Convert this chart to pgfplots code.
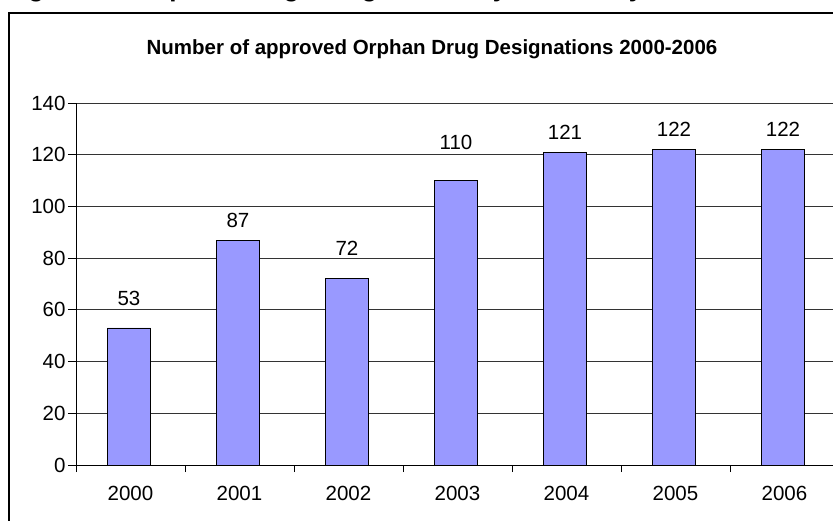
\documentclass[border=0pt]{standalone}
\usepackage{pgfplots}
\pgfplotsset{compat=1.18}
\usepackage{fontspec}
\setmainfont{Liberation Sans}
\definecolor{barblue}{HTML}{9999FF}
\pgfplotsset{/pgf/number format/assume math mode=true}
\pgfplotstableread{
x y
1 87
4 121
5 122
6 122
}\dataA
\pgfplotstableread{
x y
0 53
2 72
}\dataB
\pgfplotstableread{
x y
3 110
}\dataC
\begin{document}
\begin{tikzpicture}[x=1pt,y=1pt]
\useasboundingbox (0,0) rectangle (833,520);
\clip (0,0) rectangle (833,520);
\node[anchor=base west, font=\fontsize{26}{30}\selectfont\bfseries, inner sep=0] at (5,523) {Figure 10: Orphan Drug Designations by calendar year};
\draw[line width=1.5pt] (9,-20) -- (9,507) -- (860,507);
\node[font=\fontsize{20.5}{24}\selectfont\bfseries] at (432,471) {Number of approved Orphan Drug Designations 2000-2006};
\begin{axis}[
  at={(76pt,55pt)}, anchor=south west,
  scale only axis, width=763pt, height=362pt,
  xmin=-0.5, xmax=6.5, ymin=0, ymax=140,
  axis x line*=bottom, axis y line*=left,
  axis line style={-, line width=0.8pt},
  ytick={0,20,...,140},
  ymajorgrids, grid style={black!80, line width=0.9pt},
  xtick={0,...,6}, xticklabels={2000,2001,2002,2003,2004,2005,2006},
  major x tick style={draw=none},
  minor xtick={-0.5,0.5,...,6.5},
  tick align=outside, major tick length=8pt, minor tick length=7pt,
  tick style={black, line width=0.8pt},
  tick label style={font=\fontsize{20.5}{24}\selectfont},
  xticklabel shift=10pt,
  yticklabel shift=-1pt,
  ybar, bar width=43pt, bar shift=-1.5pt,
  clip=false,
  every axis plot/.append style={fill=barblue, draw=black, line width=0.8pt},
  nodes near coords,
  nodes near coords style={anchor=center, font=\fontsize{20.5}{24}\selectfont, text=black},
]
\addplot[nodes near coords style={yshift=20pt}] table[x=x, y=y] {\dataA};
\addplot[nodes near coords style={yshift=30pt}] table[x=x, y=y] {\dataB};
\addplot[nodes near coords style={yshift=38pt}] table[x=x, y=y] {\dataC};
\end{axis}
\end{tikzpicture}
\end{document}
